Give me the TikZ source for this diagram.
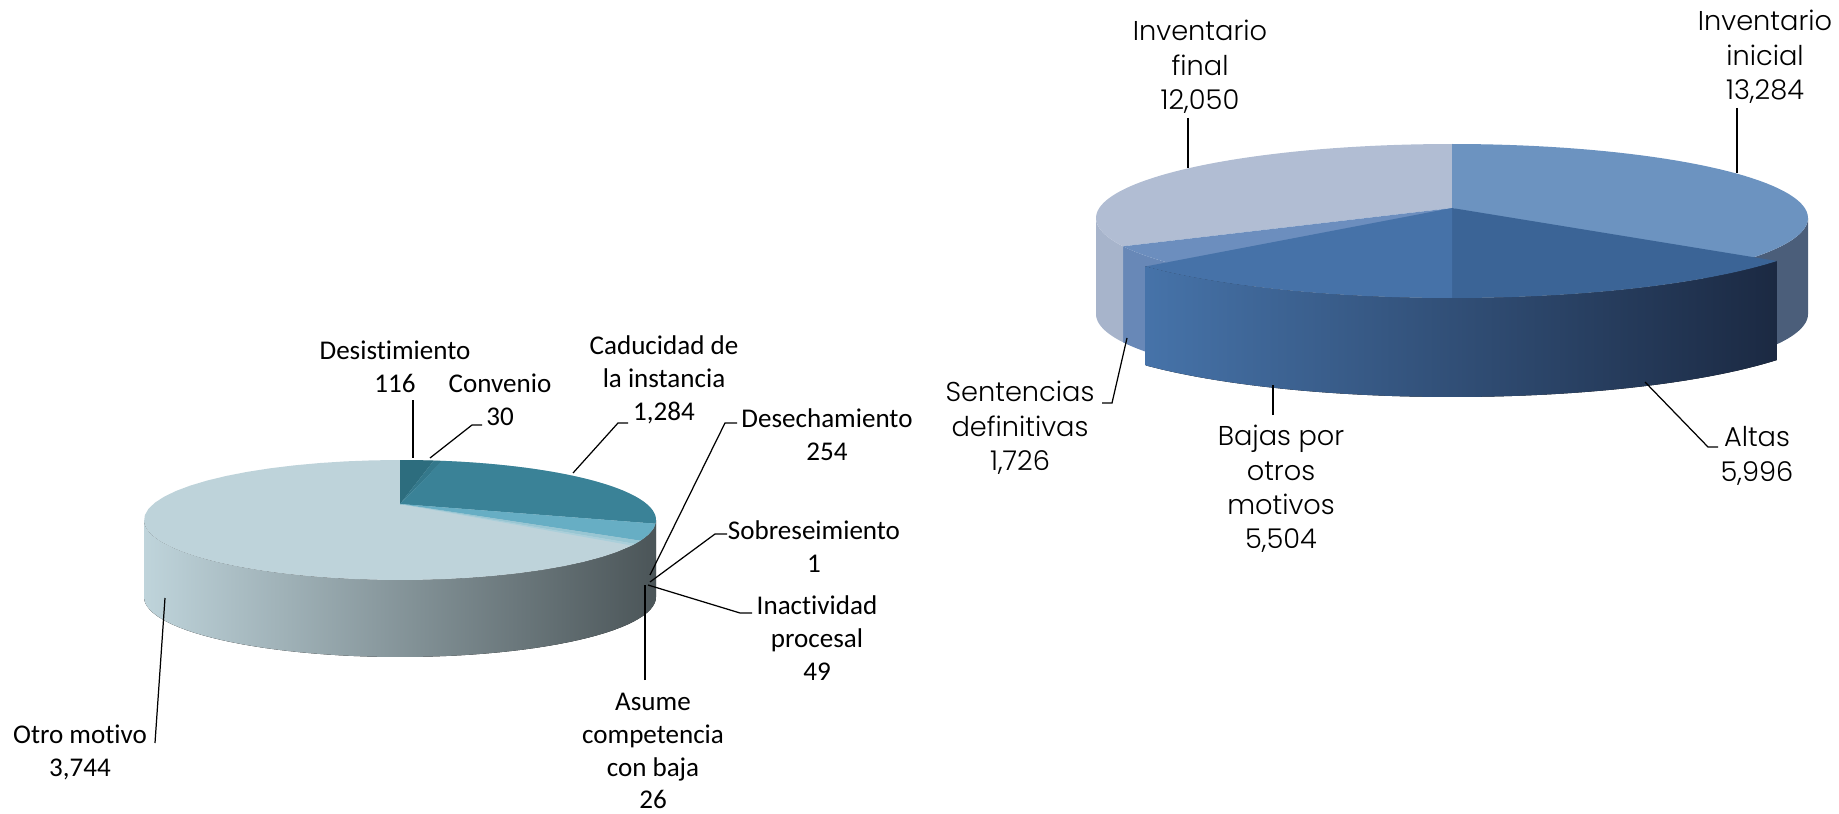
\documentclass[tikz,border=0pt]{standalone}
\usepackage{fontspec}
\setmainfont{Carlito}[Ligatures=NoCommon]
\newfontfamily\gothic[UprightFont=* Light]{Poppins}
\usetikzlibrary{positioning}
\definecolor{otro-top}{HTML}{BED3DA}
\definecolor{otro-side-l}{HTML}{BFD4DB}
\definecolor{otro-side-m}{HTML}{9DAEB3}
\definecolor{otro-side-r}{HTML}{4B5558}
\definecolor{desist-top}{HTML}{2D6D7E}
\definecolor{conv-top}{HTML}{34788B}
\definecolor{cad-top}{HTML}{3A8297}
\definecolor{desech-top}{HTML}{67AEC4}
\definecolor{sobre-top}{HTML}{7FB9CB}
\definecolor{inact-top}{HTML}{98C6D3}
\definecolor{asume-top}{HTML}{AACFDA}
\definecolor{final-top}{HTML}{B1BDD3}
\definecolor{final-side}{HTML}{A7B4CB}
\definecolor{sent-top}{HTML}{6C8EBE}
\definecolor{sent-side}{HTML}{6888B7}
\definecolor{inic-top}{HTML}{6C93C0}
\definecolor{inic-side}{HTML}{4B5E7A}
\definecolor{bajas-top}{HTML}{4672A8}
\definecolor{altas-top}{HTML}{3B6496}
\definecolor{exp-side-l}{HTML}{4673A9}
\definecolor{exp-side-m}{HTML}{34537D}
\definecolor{exp-side-r}{HTML}{1B2942}

\begin{document}
\begin{tikzpicture}[x=0.02cm, y=-0.02cm,
declare function={lpx(\t)=400+256*sin(\t); lpy(\t)=520-60*cos(\t);
npx(\t)=1452+356*sin(\t); npy(\t)=218-74*cos(\t);
epx(\t)=1452+392*sin(\t); epy(\t)=214-84*cos(\t);},
rim/.style={samples=60, variable=\t},
lbl-left/.style={align=center, inner sep=0pt, font=\fontsize{15.4}{18.7}\selectfont},
lbl-right/.style={align=center, inner sep=0pt, font=\gothic\fontsize{15.5}{19.6}\selectfont},
line/.style={draw, line width=0.7pt}
]
\useasboundingbox (0,0) rectangle (1839,814);

\coordinate (l-apex) at (400,504);
\fill[left color=otro-side-l, middle color=otro-side-m, right color=otro-side-r]
  plot[rim, domain=90:270] ({lpx(\t)},{lpy(\t)}) -- plot[rim, domain=270:90] ({lpx(\t)},{lpy(\t)+77}) -- cycle;
\fill[fill=otro-top] plot[rim, domain=0:360] ({lpx(\t)},{lpy(\t)}) -- cycle;
\fill[fill=desist-top] (l-apex) -- plot[rim, domain=0:7.59] ({lpx(\t)},{lpy(\t)}) -- cycle;
\fill[fill=conv-top] (l-apex) -- plot[rim, domain=7.59:9.55] ({lpx(\t)},{lpy(\t)}) -- cycle;
\fill[fill=cad-top] (l-apex) -- plot[rim, domain=9.55:93.53] ({lpx(\t)},{lpy(\t)}) -- cycle;
\fill[fill=desech-top] (l-apex) -- plot[rim, domain=93.53:110.14] ({lpx(\t)},{lpy(\t)}) -- cycle;
\fill[fill=sobre-top] (l-apex) -- plot[rim, domain=110.14:110.21] ({lpx(\t)},{lpy(\t)}) -- cycle;
\fill[fill=inact-top] (l-apex) -- plot[rim, domain=110.21:113.41] ({lpx(\t)},{lpy(\t)}) -- cycle;
\fill[fill=asume-top] (l-apex) -- plot[rim, domain=113.41:115.11] ({lpx(\t)},{lpy(\t)}) -- cycle;

\coordinate (r-apex) at (1452,208);
\fill[fill=inic-side] plot[rim, domain=90:135] ({npx(\t)},{npy(\t)}) -- plot[rim, domain=135:90] ({npx(\t)},{npy(\t)+96}) -- cycle;
\fill[fill=sent-side] plot[rim, domain=215:247.5] ({npx(\t)},{npy(\t)}) -- plot[rim, domain=247.5:215] ({npx(\t)},{npy(\t)+96}) -- cycle;
\fill[fill=final-side] plot[rim, domain=247.5:270] ({npx(\t)},{npy(\t)}) -- plot[rim, domain=270:247.5] ({npx(\t)},{npy(\t)+96}) -- cycle;
\fill[fill=final-top] (r-apex) -- plot[rim, domain=247.5:360] ({npx(\t)},{npy(\t)}) -- cycle;
\fill[fill=inic-top] (r-apex) -- plot[rim, domain=0:135] ({npx(\t)},{npy(\t)}) -- cycle;
\fill[fill=sent-top] (r-apex) -- plot[rim, domain=215:247.5] ({npx(\t)},{npy(\t)}) -- cycle;
\fill[left color=exp-side-l, middle color=exp-side-m, right color=exp-side-r]
  plot[rim, domain=124.02:231.39] ({epx(\t)},{epy(\t)}) -- plot[rim, domain=231.39:124.02] ({epx(\t)},{epy(\t)+99}) -- cycle;
\fill[fill=altas-top] (r-apex) -- plot[rim, domain=124.02:180] ({epx(\t)},{epy(\t)}) -- cycle;
\fill[fill=bajas-top] (r-apex) -- plot[rim, domain=180:231.39] ({epx(\t)},{epy(\t)}) -- cycle;

\node[lbl-left] (desist) at (395,367) {Desistimiento\\116};
\node[lbl-left] (conv) at (500,400) {Convenio\\30};
\node[lbl-left] (cad) at (664,380) {Caducidad de\\la instancia\\1,284};
\node[lbl-left] (desech) at (827,435) {Desechamiento\\254};
\node[lbl-left] (sobre) at (814,547) {Sobreseimiento\\1};
\node[lbl-left] (inact) at (817,638) {Inactividad\\procesal\\49};
\node[lbl-left] (asume) at (653,751) {Asume\\competencia\\con baja\\26};
\node[lbl-left] (otro) at (80,752) {Otro motivo\\3,744};

\node[lbl-right] (final) at (1200,67) {Inventario\\final\\12,050};
\node[lbl-right] (inicial) at (1765,57) {Inventario\\inicial\\13,284};
\node[lbl-right] (sent) at (1020,428) {Sentencias\\definitivas\\1,726};
\node[lbl-right] (bajas) at (1281,489) {Bajas por\\otros\\motivos\\5,504};
\node[lbl-right] (altas) at (1757,456) {Altas\\5,996};

\coordinate (desist-pt) at (413,458);
\coordinate (desist-hook) at (413,400);
\coordinate (conv-pt) at (430,458);
\coordinate (conv-hook) at (482,425);
\coordinate (cad-pt) at (573,473);
\coordinate (cad-hook) at (628,423);
\coordinate (desech-pt) at (650,575);
\coordinate (desech-hook) at (737,423);
\coordinate (sobre-pt) at (650,582);
\coordinate (sobre-hook) at (727,534);
\coordinate (inact-pt) at (648,585);
\coordinate (inact-hook) at (752,613);
\coordinate (asume-pt) at (645,585);
\coordinate (asume-hook) at (645,680);
\coordinate (otro-pt) at (165,598);
\coordinate (otro-hook) at (155,743);
\coordinate (final-pt) at (1188,168);
\coordinate (final-hook) at (1188,118);
\coordinate (inicial-pt) at (1737,173);
\coordinate (inicial-hook) at (1737,108);
\coordinate (sent-pt) at (1127,338);
\coordinate (sent-hook) at (1102,403);
\coordinate (bajas-pt) at (1273,385);
\coordinate (bajas-hook) at (1273,415);
\coordinate (altas-pt) at (1645,382);
\coordinate (altas-hook) at (1718,447);

\path [line] (desist-hook) -- (desist-pt);
\path [line] (conv-hook) -- ++(-10,0) -- (conv-pt);
\path [line] (cad-hook) -- ++(-10,0) -- (cad-pt);
\path [line] (desech-hook) -- ++(-12,0) -- (desech-pt);
\path [line] (sobre-hook) -- ++(-12,0) -- (sobre-pt);
\path [line] (inact-hook) -- ++(-12,0) -- (inact-pt);
\path [line] (asume-hook) -- (asume-pt);
\path [line] (otro-hook) -- (otro-pt);
\path [line] (final-hook) -- (final-pt);
\path [line] (inicial-hook) -- (inicial-pt);
\path [line] (sent-hook) -- ++(10,0) -- (sent-pt);
\path [line] (bajas-hook) -- (bajas-pt);
\path [line] (altas-hook) -- ++(-10,0) -- (altas-pt);
\end{tikzpicture}
\end{document}
